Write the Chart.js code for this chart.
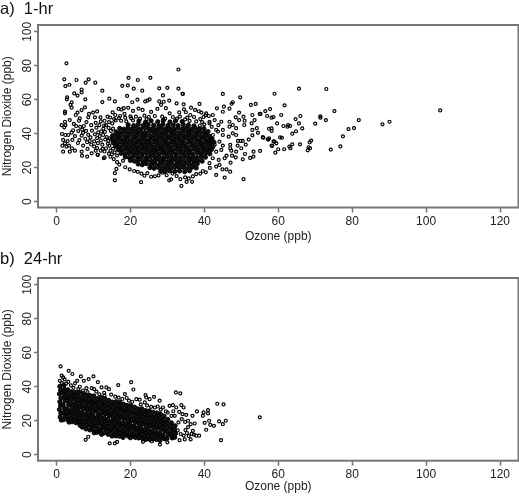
<!DOCTYPE html>
<html lang="en">
<head>
<meta charset="UTF-8">
<title>Ozone vs Nitrogen Dioxide</title>
<script src="https://cdnjs.cloudflare.com/ajax/libs/Chart.js/4.4.1/chart.umd.min.js"></script>
<style>
    body { margin: 0; background: #fff; }
    canvas { position: absolute; left: 0; }
    #chart1hr { top: 0; }
    #chart24hr { top: 250px; }
</style>
</head>
<body>
<canvas id="chart1hr" width="519" height="250"></canvas>
<canvas id="chart24hr" width="519" height="250"></canvas>
<script>
const xTicks = [0, 20, 40, 60, 80, 100, 120];
const yTicks = [0, 20, 40, 60, 80, 100];

// a) 1-hr, [ozone, no2]
const hourlyOutliers = [
  [103.8,53.7],[90.1,47],[88.2,45.5],[81.8,48],[80.5,43.3],[79,42.7],[77.5,38.4],[76.8,32.5],[75.2,53.3],[74.2,30.6],
  [73,66.3],[72.9,48],[71.4,50.2],[71.4,49.4],[70,45.9],[68.9,35.9],[68.5,34.9],[68.6,31.4],[68.2,32],[68,30.2],
  [66.5,43.1],[66,50.4],[65.9,33.7],[65.6,66.5],[65.6,46],[64.8,41.4],[64.7,48.6],[63.8,40],[63.8,33.7],[63.3,31.4],
  [63,32.4],[63.2,44.5],[62.7,45.1],[62.5,44.1],[61.4,44.5],[61.7,56.7],[61.6,30.8],[60.8,51],[61,37.6],[60.5,37.8],
  [60,30.8],[59.7,46],[59.2,28.8],[59.5,34.3],[59,35.3],[58.7,35.5],[59,63.5],[58.7,49.8],[58.2,49.4],[57.8,54.5],
  [58.2,43.1],[57.5,42.9],[58.2,41.6],[58.2,32.9],[57.5,37.3],[57.3,36.5],[56,37.6],[57,50.4],[56.5,53.3],[55.2,51.6],
  [55.1,29.8],[53.3,29.4],[53.3,26.5],[52.4,25.7],[50.4,24.9],[48.6,29.4],[50,31.4],[50.6,13.2],[47,17.6],[45.5,14.1],
  [43.2,15.7],[44.9,19],[46,19],[47.1,22.9],[44.1,21.6],[45.5,25.5],[43.9,24.5],[47,31.4],[47.3,30],[47,33.4],
  [48.6,39.2],[50.4,35.7],[49.8,35.7],[49.1,35.7],[47.7,40.2],[46.6,38.2],[45,39.2],[43.2,42.2],[45,42.2],[46.8,44.1],
  [48.6,43.2],[44.6,47],[46.8,47],[47.7,45.1],[42.8,48],[41.4,47],[42.3,51],[40.5,52],[41.4,46.1],[43.7,41.2],
  [42.3,39.2],[41.9,36.3],[42.8,33.4],[44.1,35.3],[41.4,30.4],[43.2,29.4],[44.6,30.4],[42.3,25.5],[41.4,22.6],[43.2,20.6],
  [45,63.4],[49.7,61.4],[34.2,63.4],[38.7,57.5],[36.4,55.3],[34.4,57.3],[34.5,54.3],[43.4,54.9],[45.3,55.9],[45,52.9],
  [46.8,54.7],[47.7,58.5],[47.4,57.6],[52.6,56.9],[53.9,57.5],[55,51.6],[53,51],[53.6,48],[49.4,52.4],[48.5,49.6],
  [49.4,48],[50.6,50],[50.9,47.6],[50.8,45.1],[52.8,46.1],[54.2,43.2],[53,42.2],[55.8,37.9],[57.2,36.7],[58.4,32.8],
  [53,39],[51.2,33.5],[52,36.5],[54.5,40.5],[49,33],[51,28],[46,27],[47.5,27],[48.5,26],[45,33]
];
const hourlyUpper = [
  [2.7,81.4],[2.1,72],[2.4,68],[3.5,68.8],[5.4,71.6],[8.7,72],[7.9,70],[10.5,70],[6.8,66],[6.8,64.3],
  [4.8,63.7],[5.7,62.4],[2.9,61.4],[2.8,60.2],[7.8,60.2],[12.4,65.3],[14.3,60.6],[12.4,58.6],[15.8,59],[4.1,58.4],
  [3.8,56.9],[4.1,55.3],[2.3,53],[2.3,52],[7.7,55.5],[6.8,53.9],[5.7,52.4],[5.2,51],[6.3,49],[6.1,47.6],
  [8.6,49.6],[8.8,51.6],[9.9,52.4],[11,53.1],[10.4,49.6],[11.9,49.6],[19.5,72.9],[22,71.6],[25.4,72.9],[33,77.8],
  [27.8,66.7],[30,67],[33,66.5],[34.1,63.5],[17.8,68.2],[19.3,68.4],[20.9,66.5],[23.2,65.3],[19.1,62.2],[28.8,62.5],
  [21.9,60],[20.5,58.5],[24,59],[24.6,59.5],[25.2,60.2],[27.8,59],[29,58.8],[30.5,59.5],[32.5,57.8],[28.3,57],
  [16.8,54.6],[17.6,54.2],[18.2,55],[19.4,55.2],[20.7,53.4],[22.2,54.8],[23.3,54],[25.6,52.8],[27.3,54.6],[29.6,55],
  [30.6,52],[33.2,52.5],[35,52.6],[36.2,51],[37.5,54],[38.5,53.2],[39.2,52.4],[40.3,50.8],[41.2,50.4],[15.2,52.5],
  [13.8,50],[14.5,49.5],[15.9,51],[17.2,50.4],[18.4,51.6],[20,50.2],[21.5,50],[23.8,50.6],[25,49.8],[26.6,50.4],
  [28.6,50],[31.5,49.8],[33.4,50],[35.4,49.4],[37.2,49.8],[38.9,48.6],[39.8,49.8],[13,47.6],[14.2,46.8],[16,47.8],
  [17.5,47.6],[18.9,47.2],[20.7,47.8],[36,47.5],[37.8,47.2],[39.4,46.8],[40,45.5],[38.8,44.8],[42,44],[43.8,45]
];
const hourlyLower = [
  [15.8,12.5],[15.8,16.7],[16.2,19.2],[22.9,11.4],[30.5,12.5],[31,13.1],[33.8,9.2],[35.2,11.6],[36.7,11.6],[18.6,20.2],
  [19.8,18.9],[21,18],[22,17.5],[23,16.5],[23.8,15.2],[24.6,16.8],[25.6,14.6],[26.6,14.9],[27.6,15.4],[28.6,17],
  [29.8,15.5],[31.4,16.5],[32.5,15],[33.5,13.2],[34.8,14.2],[35.8,13.6],[36.9,14.8],[37.8,16.2],[38.9,16.5],[39.6,18],
  [40.4,17.2],[41.5,19.8],[16.4,23.2],[15.5,25],[17,21.8],[18,24],[16.4,27.1],[14.6,26.4],[13,26],[11.2,27.5]
];
const hourlyLeft = [
  [2.3,47],[2.4,45],[1.4,45],[2.1,43.7],[1.5,39.8],[2.4,39.2],[3.2,39.2],[4.1,40.6],[4.7,45.7],[5.3,44.5],
  [4.3,36.3],[5,38.6],[1.8,36.3],[1.6,32.9],[2.3,34.3],[2.7,32.4],[1.8,29.4],[3.6,29.4],[5,30],[6.8,29.4],
  [6.9,27],[8.3,26.5],[9.5,28.4],[11.1,27.5],[12.8,25.5],[3,35.6],[3.4,33],[4.2,31.4],[5.8,34.5],[6.2,36.2],
  [6.8,38.8],[7.2,40.5],[7.8,37],[8.3,35],[8.6,39.3],[9.2,37.8],[9.6,41.8],[10.2,35.5],[10.8,43.5],[11.3,40.8],
  [11.7,38.6],[12,36],[12.4,33.5],[12.7,43],[13.1,41],[13.4,45],[13.6,38],[14,35.8],[14.3,32.8],[14.6,30],
  [11,31.5],[10.2,32.5],[8.4,31],[7.2,33],[13,29.5],[15.3,43],[15.1,46],[7.4,44.5],[8.1,46.8],[9.4,45],
  [3.6,48],[4.5,42],[5.9,41.5],[6.4,44],[10.6,46.4],[12,47.2],[12.5,31],[15,27.8],[11.6,45],
  [10.4,39.6],[11,37.4],[12.1,41.3],[12.6,39.2],[13.2,36.6],[13.9,34],[14.4,37.2],[14.7,41.6],[14.1,43.4],[12.9,44.8],
  [13.4,31.4],[12,30],[15.3,31.2],[15.7,29],[14.2,28.2],[10.6,30],[9.4,33.6],[9,35.6],[11.2,34.4],[8,41.6],
  [7,42.4],[15.6,48.6],[16.9,49.2],[18.6,49.4],[20.2,49],[22.6,48.8],[24.4,48.6],[29.4,48.9],[32.6,48.8],[34.8,48.4]
];
const hourlyCore = [
  [22.3,47.4],[24.1,46.8],[25.6,47.6],[27.4,47],[28.9,47.8],[30.7,46.9],[32.2,47.5],[34,47.1],
  [19.4,45.2],[20.9,44.7],[22.1,45.4],[23.5,44.9],[24.8,45.3],[26.3,45],[27.7,44.6],[28.8,45.5],[30.2,44.8],[31.6,45.1],[32.9,44.7],[34.3,45.3],[35.7,45],[37.2,44.6],
  [17.1,43.1],[18.2,42.6],[19.3,43.3],[20.4,42.8],[21.6,43],[22.7,42.7],[23.9,43.3],[25,42.9],[26.1,43.1],[27.2,42.6],[28.3,43.2],[29.5,42.8],[30.6,43],[31.8,42.7],[32.9,43.3],[34.1,42.8],[35.2,43.1],[36.4,42.6],[37.6,43.2],[38.7,42.9],[39.9,43],
  [16.1,41],[17.2,40.6],[18.3,41.2],[19.4,40.8],[20.6,41.1],[21.7,40.7],[22.9,41],[24,40.6],[25.2,41.2],[26.3,40.8],[27.4,41],[28.6,40.7],[29.7,41.1],[30.9,40.8],[32,41.2],[33.2,40.6],[34.3,41],[35.5,40.7],[36.6,41.2],[37.8,40.8],[38.9,41],[40.1,40.6],[41,41.2],
  [15.2,38.9],[16.3,38.5],[17.4,39.1],[18.6,38.6],[19.7,39],[20.9,38.6],[22,39.1],[23.2,38.7],[24.3,39],[25.4,38.5],[26.6,39.1],[27.7,38.7],[28.9,39],[30,38.6],[31.2,39.1],[32.3,38.7],[33.5,38.9],[34.6,38.5],[35.8,39.1],[36.9,38.7],[38,39],[39.2,38.6],[40.3,39],[41.3,38.5],
  [15,36.8],[16,36.4],[17.1,37],[18.2,36.5],[19.3,36.9],[20.5,36.5],[21.6,37],[22.8,36.6],[23.9,36.9],[25.1,36.4],[26.2,37],[27.3,36.6],[28.5,36.9],[29.6,36.5],[30.8,37],[31.9,36.6],[33.1,36.8],[34.2,36.4],[35.4,37],[36.5,36.6],[37.7,36.9],[38.8,36.5],[40,36.9],[41.1,36.4],[42.1,37],
  [15.3,34.7],[16.4,34.3],[17.5,34.9],[18.7,34.4],[19.8,34.8],[21,34.4],[22.1,34.9],[23.3,34.5],[24.4,34.8],[25.6,34.3],[26.7,34.9],[27.8,34.5],[29,34.8],[30.1,34.4],[31.3,34.9],[32.4,34.5],[33.6,34.7],[34.7,34.3],[35.9,34.9],[37,34.5],[38.2,34.8],[39.3,34.4],[40.5,34.8],[41.6,34.3],[42.6,34.9],
  [16,32.6],[17.1,32.2],[18.2,32.8],[19.4,32.3],[20.5,32.7],[21.7,32.3],[22.8,32.8],[24,32.4],[25.1,32.7],[26.3,32.2],[27.4,32.8],[28.5,32.4],[29.7,32.7],[30.8,32.3],[32,32.8],[33.1,32.4],[34.3,32.6],[35.4,32.2],[36.6,32.8],[37.7,32.4],[38.9,32.7],[40,32.3],[41.2,32.7],[42.3,32.2],
  [16.7,30.5],[17.8,30.1],[18.9,30.7],[20.1,30.2],[21.2,30.6],[22.4,30.2],[23.5,30.7],[24.7,30.3],[25.8,30.6],[27,30.1],[28.1,30.7],[29.2,30.3],[30.4,30.6],[31.5,30.2],[32.7,30.7],[33.8,30.3],[35,30.5],[36.1,30.1],[37.3,30.7],[38.4,30.3],[39.6,30.6],[40.7,30.2],[41.9,30.6],
  [17.5,28.4],[18.6,28],[19.7,28.6],[20.9,28.1],[22,28.5],[23.2,28.1],[24.3,28.6],[25.5,28.2],[26.6,28.5],[27.8,28],[28.9,28.6],[30,28.2],[31.2,28.5],[32.3,28.1],[33.5,28.6],[34.6,28.2],[35.8,28.4],[36.9,28],[38.1,28.6],[39.2,28.2],[40.4,28.5],[41.5,28.1],
  [18.6,26.3],[19.7,25.9],[20.8,26.5],[22,26],[23.1,26.4],[24.3,26],[25.4,26.5],[26.6,26.1],[27.7,26.4],[28.9,25.9],[30,26.5],[31.1,26.1],[32.3,26.4],[33.4,26],[34.6,26.5],[35.7,26.1],[36.9,26.3],[38,25.9],[39.2,26.5],[40.3,26.1],
  [20,24.2],[21.1,23.8],[22.2,24.4],[23.4,23.9],[24.5,24.3],[25.7,23.9],[26.8,24.4],[28,24],[29.1,24.3],[30.3,23.8],[31.4,24.4],[32.5,24],[33.7,24.3],[34.8,23.9],[36,24.4],[37.1,24],[38.3,24.2],[39.4,23.8],
  [22.1,22.1],[23.2,21.7],[24.3,22.3],[25.5,21.8],[26.6,22.2],[27.8,21.8],[28.9,22.3],[30.1,21.9],[31.2,22.2],[32.4,21.7],[33.5,22.3],[34.6,21.9],[35.8,22.2],[36.9,21.8],[38.1,22.3],
  [25.3,20],[26.4,19.6],[27.5,20.2],[28.7,19.7],[29.8,20.1],[31,19.7],[32.1,20.2],[33.3,19.8],[34.4,20.1],[35.6,19.6],[36.7,20.2],[37.8,19.8],
  [28.2,17.9],[29.4,17.6],[30.6,18.1],[32,17.7],[33.3,18],[34.7,17.6],[36,18.2]
];

// b) 24-hr, [ozone, no2]
const dailyOutliers = [
  [55,22],[45.8,20],[44,19.6],[41.3,20],[40.1,18.8],[41.6,17.6],[42.6,17],[45,18],[40.5,14.7],[44.5,8.6],
  [43.5,30],[45.2,29.6],[38,25.5],[41,26.3],[39.8,24.9],[41,24.3],[39.6,22.9],[37.4,18.4],[36.8,22.9],[35.6,20],
  [38.6,11.2],[37.8,11.2],[37.2,11.8],[36.3,9],[34.7,9],[36.9,14.1],[36.3,18],[32.3,36.7],[33.5,36.1],[31.5,29.2],
  [30.6,28.8],[32.4,27.8],[33.8,29.2],[34.4,27.8],[34.1,23.9],[35.1,23.5],[31.1,22.9],[32,22.9],[34.9,14.5],[35.6,16.3],
  [33.2,25.2],[33.9,21],[34.8,19.3],[33,19],[32.8,14.4],[33.6,12.2],[34.4,11.3],[35.3,12.8],[31.6,25.6],[30.1,24.8],
  [35.8,11],[36.6,12.4],[33.3,8.6],[31.5,9.8],[30,7.3],[28,6],[25.8,7.8],[23.4,7.6],[16.4,7.6],[15.8,6.7],
  [14.4,6.7],[7.9,8.8],[8.6,10.6]
];
const dailyUpper = [
  [1.1,52],[3.3,49.4],[4.3,47.5],[1.4,46.5],[1.8,45.5],[0.9,43.5],[6.6,46.1],[10,46.1],[8.7,44.5],[7.4,43.5],
  [5.6,43.5],[5,42],[11.2,42.7],[3.2,42.9],[20.2,42.7],[16.7,41],[20.8,38.4],[18.5,35.7],[24.1,35.1],[26.4,34.1],
  [13.5,39.6],[14.2,38.6],[12.2,39.6],[8.1,39.2],[9.5,39.2],[6.3,40],[5.9,38.6],[24.3,33.7],[25.2,32.7],[23.9,30.8],
  [22.5,32.4],[21.6,32.7],[27.9,31.8],[26.6,27.8],[28.8,27.8],[2.2,44.4],[2.6,41.8],[3.9,40.8],[1.5,42.2],[7.2,37.8],
  [8.4,36.8],[10.8,37.2],[11.6,35.6],[12.9,36.4],[14.8,35.4],[15.9,34.2],[16.8,33.6],[17.8,32.8],[19.6,31.8],[20.5,31.2],
  [22.8,29.6],[24.5,29],[25.6,28.2],[27.4,28.4],[28.2,26.6],[29.6,25.6],[10.2,38.6],[13,34.8],[4.6,39.4],[19,33.4]
];
const dailyCore = [
  [0.9,40.2],[1.1,38],[0.8,35.8],[1.2,33.4],[0.9,31.2],[1.1,29],[0.8,26.6],[1.2,24.4],[1,22.2],[1.3,20.4],
  [2,40.8],[2.2,38.4],[1.9,36.2],[2.1,33.9],[2.3,31.7],[1.8,29.4],[2.2,27.2],[2,24.9],[2.3,22.7],[1.9,20.6],
  [3.1,38.2],[2.9,36],[3.2,33.7],[3,31.5],[3.3,29.3],[2.9,27],[3.2,24.8],[3,22.5],[3.2,20.3],[3.4,19.2],
  [4.1,37],[3.9,34.8],[4.2,32.6],[4,30.3],[4.3,28.1],[3.9,25.9],[4.2,23.6],[4,21.4],[4.2,19.4],
  [5.1,36.6],[4.9,34.4],[5.2,32.2],[5,29.9],[5.3,27.7],[4.9,25.5],[5.2,23.2],[5,21],[5.3,18.8],
  [6.1,36.8],[5.9,34.6],[6.2,32.3],[6,30.1],[6.3,27.9],[5.9,25.6],[6.2,23.4],[6,21.2],[6.2,19],[6.4,17.2],
  [7.1,36],[6.9,33.8],[7.2,31.5],[7,29.3],[7.3,27.1],[6.9,24.8],[7.2,22.6],[7,20.4],[7.3,18.1],[7,16.2],
  [8.1,35.2],[7.9,33],[8.2,30.7],[8,28.5],[8.3,26.3],[7.9,24],[8.2,21.8],[8,19.6],[8.3,17.3],[8,15.2],
  [9.1,34.8],[8.9,32.6],[9.2,30.3],[9,28.1],[9.3,25.9],[8.9,23.6],[9.2,21.4],[9,19.2],[9.3,16.9],[9,14.6],
  [10.1,34.6],[9.9,32.4],[10.2,30.1],[10,27.9],[10.3,25.7],[9.9,23.4],[10.2,21.2],[10,19],[10.3,16.7],[10,14.5],[10.2,12.9],
  [11.1,33],[10.9,30.8],[11.2,28.5],[11,26.3],[11.3,24.1],[10.9,21.8],[11.2,19.6],[11,17.4],[11.3,15.1],[11,13.2],
  [12.1,33.6],[11.9,31.4],[12.2,29.1],[12,26.9],[12.3,24.7],[11.9,22.4],[12.2,20.2],[12,18],[12.3,15.7],[12,13.5],[12.2,12],
  [13.1,33],[12.9,30.8],[13.2,28.5],[13,26.3],[13.3,24.1],[12.9,21.8],[13.2,19.6],[13,17.4],[13.3,15.1],[13,12.9],
  [14.1,32],[13.9,29.8],[14.2,27.5],[14,25.3],[14.3,23.1],[13.9,20.8],[14.2,18.6],[14,16.4],[14.3,14.1],[14,12],
  [15.1,31],[14.9,28.8],[15.2,26.5],[15,24.3],[15.3,22.1],[14.9,19.8],[15.2,17.6],[15,15.4],[15.3,13.1],[15,11],
  [16.1,31.2],[15.9,29],[16.2,26.7],[16,24.5],[16.3,22.3],[15.9,20],[16.2,17.8],[16,15.6],[16.3,13.3],[16,11.1],
  [17.1,30.8],[16.9,28.6],[17.2,26.3],[17,24.1],[17.3,21.9],[16.9,19.6],[17.2,17.4],[17,15.2],[17.3,12.9],[17,10.9],
  [18.1,29.8],[17.9,27.6],[18.2,25.3],[18,23.1],[18.3,20.9],[17.9,18.6],[18.2,16.4],[18,14.2],[18.3,11.9],[18,10.2],
  [19.1,29],[18.9,26.8],[19.2,24.5],[19,22.3],[19.3,20.1],[18.9,17.8],[19.2,15.6],[19,13.4],[19.3,11.1],
  [20.1,29],[19.9,26.8],[20.2,24.5],[20,22.3],[20.3,20.1],[19.9,17.8],[20.2,15.6],[20,13.4],[20.3,11.1],[20,10],
  [21.1,28],[20.9,25.8],[21.2,23.5],[21,21.3],[21.3,19.1],[20.9,16.8],[21.2,14.6],[21,12.4],[21.3,10.2],
  [22.1,27],[21.9,24.8],[22.2,22.5],[22,20.3],[22.3,18.1],[21.9,15.8],[22.2,13.6],[22,11.4],[22.2,9.9],
  [23.1,27],[22.9,24.8],[23.2,22.5],[23,20.3],[23.3,18.1],[22.9,15.8],[23.2,13.6],[23,11.4],[23.3,9.4],
  [24.1,26],[23.9,23.8],[24.2,21.5],[24,19.3],[24.3,17.1],[23.9,14.8],[24.2,12.6],[24,10.4],[24.2,9],
  [25.1,25.8],[24.9,23.6],[25.2,21.3],[25,19.1],[25.3,16.9],[24.9,14.6],[25.2,12.4],[25,10.2],[25.3,9],
  [26.1,25],[25.9,22.8],[26.2,20.5],[26,18.3],[26.3,16.1],[25.9,13.8],[26.2,11.6],[26,9.4],
  [27.1,24.6],[26.9,22.4],[27.2,20.1],[27,17.9],[27.3,15.7],[26.9,13.4],[27.2,11.2],[27,9],
  [28.1,24],[27.9,21.8],[28.2,19.5],[28,17.3],[28.3,15.1],[27.9,12.8],[28.2,10.6],[28,8.4],
  [29.1,22.8],[28.9,20.6],[29.2,18.3],[29,16.1],[29.3,13.9],[28.9,11.6],[29.2,9.4],
  [30.1,20.8],[29.9,18.6],[30.2,16.3],[30,14.1],[30.3,11.9],[29.9,9.6],
  [31.1,18.8],[30.9,16.6],[31.2,14.3],[31,12.1],[31.3,9.9],
  [32.1,17],[31.9,14.8],[32.2,12.5],[32,10.3]
];

// frame around the plot, R style
const frame = {
    id: 'frame',
    afterDraw(chart) {
        const { ctx, chartArea: a } = chart;
        ctx.save();
        ctx.strokeStyle = '#777';
        ctx.lineWidth = 2;
        ctx.strokeRect(a.left, a.top, a.right - a.left, a.bottom - a.top);
        ctx.restore();
    }
};

function toPoints(list) {
    return list.map(p => ({ x: p[0], y: p[1] }));
}

// core = the overplotted middle of the cloud, rings there merge into black
function makeChart(id, label, points, core, titleGap, scaleHeight) {
    const font = { family: "'Liberation Sans', Arial, sans-serif", size: 12 };
    new Chart(document.getElementById(id), {
        type: 'scatter',
        data: {
            datasets: [
                { data: toPoints(points), pointRadius: 1.5, pointBorderWidth: 1.2, pointBorderColor: '#000', pointBackgroundColor: 'transparent' },
                { data: toPoints(core), pointRadius: 2.1, pointBorderWidth: 1, pointBorderColor: '#000', pointBackgroundColor: '#111' }
            ]
        },
        options: {
            responsive: false,
            animation: false,
            plugins: {
                legend: { display: false },
                tooltip: { enabled: false },
                title: {
                    display: true,
                    text: label,
                    align: 'start',
                    color: '#111',
                    font: { family: font.family, size: 16.5, weight: 'normal', lineHeight: 1.2 },
                    padding: { top: 0, bottom: titleGap }
                }
            },
            layout: { autoPadding: false, padding: { left: 0, right: 0.5, top: 0, bottom: 0 } },
            scales: {
                x: {
                    type: 'linear',
                    min: -5,
                    max: 125,
                    afterBuildTicks: s => { s.ticks = xTicks.map(v => ({ value: v })); },
                    afterFit: s => { s.height = scaleHeight; s.paddingLeft = 0; s.paddingRight = 0; },
                    border: { display: false },
                    grid: { drawOnChartArea: false, tickLength: 5, tickColor: '#777', tickWidth: 1.5 },
                    ticks: { color: '#222', font, padding: 2, maxRotation: 0, autoSkip: false, callback: v => String(v) },
                    title: { display: true, text: 'Ozone (ppb)', color: '#222', font, padding: { top: 0, bottom: 5.8 } }
                },
                y: {
                    min: -3.5,
                    max: 104,
                    afterBuildTicks: s => { s.ticks = yTicks.map(v => ({ value: v })); },
                    afterFit: s => { s.width = 38; s.paddingTop = 0; s.paddingBottom = 0; },
                    border: { display: false },
                    grid: { drawOnChartArea: false, tickLength: 4, tickColor: '#777', tickWidth: 1.5 },
                    ticks: { color: '#222', font, padding: -4, minRotation: 90, maxRotation: 90, crossAlign: 'center', autoSkip: false, callback: v => String(v) },
                    title: { display: true, text: 'Nitrogen Dioxide (ppb)', color: '#222', font, padding: { top: 0.5, bottom: 0 } }
                }
            }
        },
        plugins: [frame]
    });
}

makeChart('chart1hr', 'a)  1-hr', [...hourlyOutliers, ...hourlyUpper, ...hourlyLower, ...hourlyLeft], hourlyCore, 5.2, 42.5);
makeChart('chart24hr', 'b)  24-hr', [...dailyOutliers, ...dailyUpper], dailyCore, 8.2, 39.3);
</script>
</body>
</html>
